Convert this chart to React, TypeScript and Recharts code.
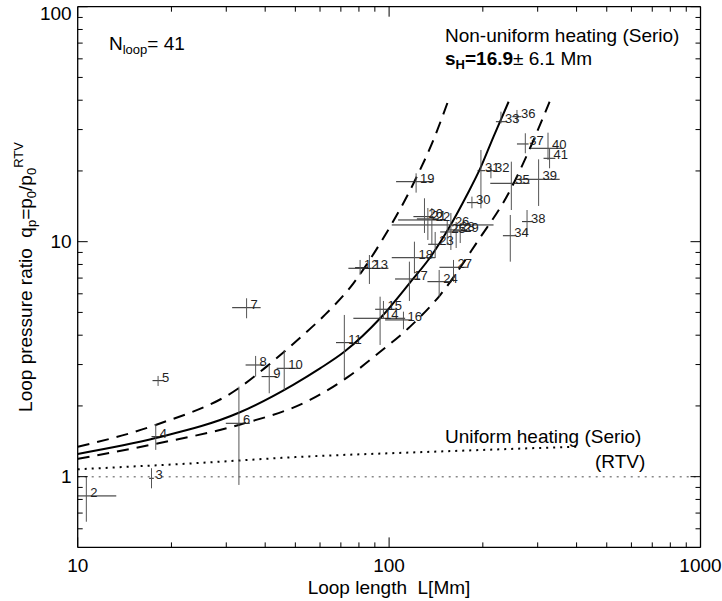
import React from 'react';
import { ComposedChart, XAxis, YAxis, Scatter, Line, ErrorBar, ReferenceLine, Customized } from 'recharts';

const FONT = '"Liberation Sans", Arial, Helvetica, sans-serif';

// ---- loop measurements ----
const loopIds = [2, 3, 4, 5, 6, 7, 8, 9, 10, 11, 12, 13, 14, 15, 16, 17, 18, 19, 20, 21, 22, 23, 24, 25, 26, 27, 28, 29, 30, 31, 32, 33, 34, 35, 36, 37, 38, 39, 40, 41];
const loopLength = [10.66, 17.26, 17.81, 18.12, 32.94, 34.86, 37.27, 41.22, 46.05, 71.82, 80.7, 86.45, 93.56, 95.9, 111.2, 116.2, 120.6, 122.1, 129.9, 133.2, 137.2, 140.6, 144.8, 153.7, 157.9, 161.0, 164.2, 169.2, 184.5, 197.2, 212.3, 228.7, 245.0, 246.9, 257.4, 273.8, 277.3, 302.1, 323.8, 327.6];
const loopLengthLow = [10.0, 16.96, 17.26, 17.39, 29.9, 31.33, 34.61, 38.96, 43.55, 67.53, 77.75, 74.0, 76.77, 90.2, 97.1, 104.5, 102.0, 105.3, 119.7, 122.8, 106.9, 133.5, 132.8, 145.9, 102.0, 145.1, 154.8, 160.6, 177.8, 192.3, 205.1, 220.3, 232.0, 211.3, 248.7, 257.4, 267.2, 254.2, 284.0, 313.3];
const loopLengthHigh = [13.3, 17.56, 18.35, 18.8, 35.7, 38.68, 39.63, 43.55, 52.01, 76.77, 85.6, 99.5, 112.6, 105.9, 118.3, 125.8, 140.6, 138.8, 138.8, 143.7, 151.4, 145.9, 159.1, 166.7, 216.5, 177.8, 177.8, 182.2, 191.4, 203.6, 219.1, 239.0, 254.2, 282.5, 265.8, 280.5, 287.6, 353.0, 363.6, 341.9];
const pressureRatio = [0.828, 0.984, 1.48, 2.562, 1.687, 5.237, 2.987, 2.665, 2.892, 3.718, 7.752, 7.706, 4.721, 5.157, 4.645, 6.938, 8.547, 18.0, 12.78, 12.5, 12.37, 9.75, 6.757, 11.0, 11.78, 7.782, 11.22, 11.11, 14.66, 20.05, 20.05, 32.4, 10.6, 17.72, 34.03, 26.05, 12.17, 18.43, 24.97, 22.64];
const pressureRatioLow = [0.643, 0.892, 1.3, 2.432, 0.922, 4.721, 2.665, 2.264, 2.338, 2.623, 7.216, 6.607, 3.635, 4.735, 4.239, 5.594, 7.337, 16.17, 10.89, 10.17, 9.68, 8.52, 5.834, 9.68, 9.22, 6.757, 9.4, 9.87, 13.87, 13.87, 18.62, 31.9, 8.22, 13.64, 31.9, 23.78, 10.68, 14.19, 22.27, 20.53];
const pressureRatioHigh = [1.0, 1.086, 1.676, 2.683, 2.415, 5.743, 3.264, 2.987, 3.461, 4.877, 8.36, 8.776, 5.834, 5.594, 5.037, 8.222, 10.0, 19.54, 15.3, 13.91, 13.91, 11.0, 7.579, 12.37, 13.25, 8.36, 12.13, 12.01, 15.55, 24.56, 21.0, 35.74, 12.99, 21.9, 36.35, 28.93, 13.64, 22.41, 29.1, 24.97];

// ---- model curves ----
const serioL = [10, 17.8, 32.9, 49.2, 60, 71.8, 93.6, 116.2, 137.2, 155.4, 177.8, 196.2, 216.5, 242];
const serioQ = [1.25, 1.46, 1.87, 2.46, 2.89, 3.4, 4.72, 6.65, 8.78, 11.4, 15.8, 20.5, 28.0, 39.4];
const serioUpperL = [10, 17.8, 32.9, 40.4, 53.0, 62.2, 76.8, 93.6, 122.7, 138.8, 154.4];
const serioUpperQ = [1.34, 1.66, 2.38, 2.94, 4.01, 4.88, 6.65, 9.84, 18.9, 27.1, 39.4];
const serioLowerL = [10, 17.8, 32.9, 55.7, 74, 93.6, 116.8, 145.9, 193.7, 241.9, 277.3, 327.6];
const serioLowerQ = [1.19, 1.38, 1.66, 2.12, 2.665, 3.4, 4.35, 5.93, 10.17, 16.07, 23.4, 39.4];
const uniformL = [10, 23.5, 53, 138.8, 401];
const uniformQ = [1.075, 1.14, 1.216, 1.277, 1.342];

// ---- ticks ----
const xMajorTicks = [10, 100, 1000];
const xMinorTicks = [20, 30, 40, 50, 60, 70, 80, 90, 200, 300, 400, 500, 600, 700, 800, 900];
const yMajorTicks = [1, 10, 100];
const yMinorTicks = [0.6, 0.7, 0.8, 0.9, 2, 3, 4, 5, 6, 7, 8, 9, 20, 30, 40, 50, 60, 70, 80, 90];

const loops = loopIds.map((id, i) => ({
  id,
  L: loopLength[i],
  q: pressureRatio[i],
  LErr: [loopLength[i] - loopLengthLow[i], loopLengthHigh[i] - loopLength[i]],
  qErr: [pressureRatio[i] - pressureRatioLow[i], pressureRatioHigh[i] - pressureRatio[i]],
}));
const toSeries = (xs: number[], ys: number[]) => xs.map((L, i) => ({ L, q: ys[i] }));
const serioData = toSeries(serioL, serioQ);
const serioUpperData = toSeries(serioUpperL, serioUpperQ);
const serioLowerData = toSeries(serioLowerL, serioLowerQ);
const uniformData = toSeries(uniformL, uniformQ);

const xTicks = [...xMajorTicks, ...xMinorTicks].sort((a, b) => a - b);
const yTicks = [...yMinorTicks, ...yMajorTicks].sort((a, b) => a - b);

const MAJOR = 10;
const MINOR = 5;

const makeTick = (side: 'bottom' | 'top' | 'left' | 'right') => (props: any) => {
  const { x, y, payload } = props;
  const v = payload.value;
  const major = side === 'bottom' || side === 'top' ? xMajorTicks.includes(v) : yMajorTicks.includes(v);
  const len = major ? MAJOR : MINOR;
  let line;
  if (side === 'bottom') line = <line x1={x} y1={y} x2={x} y2={y - len} stroke="#000" strokeWidth={1} />;
  else if (side === 'top') line = <line x1={x} y1={y} x2={x} y2={y + len} stroke="#000" strokeWidth={1} />;
  else if (side === 'left') line = <line x1={x} y1={y} x2={x + len} y2={y} stroke="#000" strokeWidth={1} />;
  else line = <line x1={x} y1={y} x2={x - len} y2={y} stroke="#000" strokeWidth={1} />;
  let label = null;
  if (major && side === 'bottom') {
    label = (
      <text x={x} y={y + 24.5} textAnchor="middle" fontSize={19} fontFamily={FONT} fill="#000">
        {v}
      </text>
    );
  } else if (major && side === 'left') {
    label = (
      <text x={x - 6} y={y + 6.8 + (v === 100 ? 6 : 0)} textAnchor="end" fontSize={19} fontFamily={FONT} fill="#000">
        {v}
      </text>
    );
  }
  return (
    <g>
      {line}
      {label}
    </g>
  );
};

const PointLabel = (props: any) => {
  const { cx, cy, payload } = props;
  if (cx == null || cy == null) return null;
  return (
    <text x={cx + 4} y={cy + 1} fontSize={13} fontFamily={FONT} fill="#222">
      {payload.id}
    </text>
  );
};

const Annotations = () => (
  <g fontFamily={FONT} fill="#000">
    <text x={109} y={50} fontSize={19}>
      N<tspan fontSize={13} dy={4}>loop</tspan>
      <tspan dy={-4}>= 41</tspan>
    </text>
    <text x={445} y={41.7} fontSize={19}>Non-uniform heating (Serio)</text>
    <text x={445} y={65} fontSize={19} style={{ whiteSpace: 'pre' }}>
      <tspan fontWeight="bold">s</tspan>
      <tspan fontWeight="bold" fontSize={13} dy={4}>H</tspan>
      <tspan fontWeight="bold" dy={-4}>=16.9</tspan>
      <tspan>±</tspan>
      <tspan> 6.1 Mm</tspan>
    </text>
    <text x={445} y={443.3} fontSize={19}>Uniform heating (Serio)</text>
    <text x={595} y={468.3} fontSize={19}>(RTV)</text>
    <text x={389} y={594.3} fontSize={19} textAnchor="middle" style={{ whiteSpace: 'pre' }}>
      Loop length  L[Mm]
    </text>
    <text
      x={31.7}
      y={277}
      fontSize={19}
      textAnchor="middle"
      transform="rotate(-90, 31.7, 277)"
      style={{ whiteSpace: 'pre' }}
    >
      Loop pressure ratio  q<tspan fontSize={13} dy={4}>p</tspan>
      <tspan dy={-4}>=p</tspan>
      <tspan fontSize={13} dy={4}>0</tspan>
      <tspan dy={-4}>/p</tspan>
      <tspan fontSize={13} dy={4}>0</tspan>
      <tspan fontSize={13} dy={-13}>RTV</tspan>
    </text>
  </g>
);

export default function App() {
  return (
    <div style={{ position: 'absolute', left: 0, top: 0, width: 722, height: 601, background: '#fff' }}>
      <ComposedChart width={722} height={601} margin={{ top: 1.7, right: 16.5, bottom: 23.6, left: 17.7 }}>
        <XAxis
          xAxisId={0}
          dataKey="L"
          type="number"
          scale="log"
          domain={[10, 1000]}
          allowDataOverflow
          ticks={xTicks}
          interval={0}
          tickSize={0}
          tickMargin={0}
          tickLine={false}
          height={30}
          axisLine={{ stroke: '#000', strokeWidth: 1.3 }}
          tick={makeTick('bottom')}
        />
        <XAxis
          xAxisId="top"
          orientation="top"
          dataKey="L"
          type="number"
          scale="log"
          domain={[10, 1000]}
          allowDataOverflow
          ticks={xTicks}
          interval={0}
          tickSize={0}
          tickMargin={0}
          tickLine={false}
          height={5}
          axisLine={{ stroke: '#000', strokeWidth: 1.3 }}
          tick={makeTick('top')}
        />
        <YAxis
          yAxisId={0}
          type="number"
          scale="log"
          domain={[0.5, 100]}
          allowDataOverflow
          ticks={yTicks}
          interval={0}
          tickSize={0}
          tickMargin={0}
          tickLine={false}
          width={60}
          axisLine={{ stroke: '#000', strokeWidth: 1.3 }}
          tick={makeTick('left')}
        />
        <YAxis
          yAxisId="right"
          orientation="right"
          type="number"
          scale="log"
          domain={[0.5, 100]}
          allowDataOverflow
          ticks={yTicks}
          interval={0}
          tickSize={0}
          tickMargin={0}
          tickLine={false}
          width={5}
          axisLine={{ stroke: '#000', strokeWidth: 1.3 }}
          tick={makeTick('right')}
        />
        <ReferenceLine y={1} stroke="#888" strokeWidth={1.5} strokeDasharray="2 5" />
        <Line
          data={uniformData}
          dataKey="q"
          type="monotone"
          stroke="#000"
          strokeWidth={2}
          strokeDasharray="2 5"
          dot={false}
          isAnimationActive={false}
        />
        <Line
          data={serioUpperData}
          dataKey="q"
          type="monotone"
          stroke="#000"
          strokeWidth={2}
          strokeDasharray="12 8"
          dot={false}
          isAnimationActive={false}
        />
        <Line
          data={serioLowerData}
          dataKey="q"
          type="monotone"
          stroke="#000"
          strokeWidth={2}
          strokeDasharray="12 8"
          dot={false}
          isAnimationActive={false}
        />
        <Line
          data={serioData}
          dataKey="q"
          type="monotone"
          stroke="#000"
          strokeWidth={2}
          dot={false}
          isAnimationActive={false}
        />
        <Scatter data={loops} dataKey="q" shape={PointLabel} isAnimationActive={false}>
          <ErrorBar dataKey="LErr" direction="x" width={0} stroke="#222" strokeWidth={1} isAnimationActive={false} />
          <ErrorBar dataKey="qErr" direction="y" width={0} stroke="#555" strokeWidth={1} isAnimationActive={false} />
        </Scatter>
        <Customized component={Annotations} />
      </ComposedChart>
    </div>
  );
}
